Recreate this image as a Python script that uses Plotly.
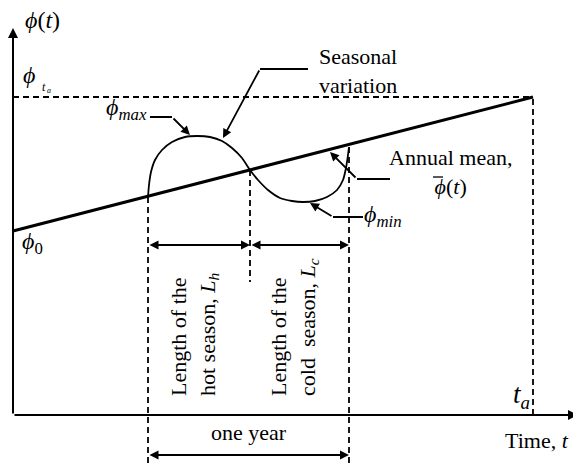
import plotly.graph_objects as go

# ---- schematic data (t: time units, phi: variable units) ----
t_a = 520
phi_0 = 184
phi_ta = 318
mean_t = [0, t_a]
mean_phi = [phi_0, phi_ta]

curve_t = [135, 136, 138, 142, 149, 159, 172, 184, 197, 209, 219, 229, 237, 245,
           255, 267, 279, 290, 302, 314, 324, 330, 333, 335, 336]
curve_phi = [218, 230, 243, 255, 265, 273, 278, 279, 278, 274, 267, 257, 245, 235,
             225, 217, 214, 213, 214, 218, 225, 235, 247, 260, 268]

year_start, season_split, year_end = 135, 237, 336
season_arrow_phi = 170
year_arrow_phi = -40
dash_bottom = -48
split_dash_bottom = 133

# leader lines: [horizontal start, elbow, arrow tip]
lead_seasonal = [(295, 346), (247, 346), (210, 277)]
lead_max = [(137, 298), (159, 298), (177, 280)]
lead_min = [(350, 198), (320, 198), (297, 212)]
lead_mean = [(377, 236), (344, 236), (317, 263)]
# bar over the mean symbol
mean_bar_t = [420, 430]
mean_bar_phi = [238, 238]

FONT = "Liberation Serif, Times New Roman, serif"
BLACK = "#000"

fig = go.Figure()

def line(xs, ys, width=2, dash="solid"):
    fig.add_trace(go.Scatter(x=xs, y=ys, mode="lines",
                             line=dict(color=BLACK, width=width, dash=dash),
                             hoverinfo="skip", showlegend=False))

# mean line
line(mean_t, mean_phi, width=3)
# seasonal curve
fig.add_trace(go.Scatter(x=curve_t, y=curve_phi, mode="lines",
                         line=dict(color=BLACK, width=1.8, shape="spline", smoothing=0.6),
                         hoverinfo="skip", showlegend=False))
# dashed lines
DASH = "6px,4px"
line([0, t_a], [phi_ta, phi_ta], width=1.8, dash=DASH)
line([t_a, t_a], [0, phi_ta], width=1.8, dash=DASH)
line([year_start, year_start], [curve_phi[0], dash_bottom], width=1.8, dash=DASH)
line([season_split, season_split], [curve_phi[12], split_dash_bottom], width=1.8, dash=DASH)
line([year_end, year_end], [curve_phi[-1], dash_bottom], width=1.8, dash=DASH)

# leader horizontal segments
for ld in (lead_seasonal, lead_max, lead_min, lead_mean):
    line([ld[0][0], ld[1][0]], [ld[0][1], ld[1][1]], width=2)
# overbar
line(mean_bar_t, mean_bar_phi, width=1.3)

ann = []

def arrow(x0, y0, x1, y1, width=2, both=False, size=1.0):
    ann.append(dict(x=x1, y=y1, ax=x0, ay=y0, xref="x", yref="y", axref="x", ayref="y",
                    text="", showarrow=True, arrowhead=2, startarrowhead=2,
                    arrowsize=size, startarrowsize=size,
                    arrowwidth=width, arrowcolor=BLACK,
                    arrowside="end+start" if both else "end"))

# axes
arrow(0, 0, 0, 387, width=2)
arrow(0, 0, 565, 0, width=2)
# leader diagonals
for ld in (lead_seasonal, lead_max, lead_min, lead_mean):
    arrow(ld[1][0], ld[1][1], ld[2][0], ld[2][1], width=1.8)
# season arrows
arrow(year_start, season_arrow_phi, season_split, season_arrow_phi, width=1.8, both=True)
arrow(season_split, season_arrow_phi, year_end, season_arrow_phi, width=1.8, both=True)
arrow(year_start, year_arrow_phi, year_end, year_arrow_phi, width=1.8, both=True)

def text(x, y, s, size=22, xanchor="center", yanchor="middle", angle=0, align="center"):
    ann.append(dict(x=x, y=y, xref="x", yref="y", text=s, showarrow=False,
                    xanchor=xanchor, yanchor=yanchor, textangle=angle, align=align,
                    font=dict(family=FONT, size=size, color=BLACK)))

text(29, 395, "<i>ϕ</i>(<i>t</i>)", size=24)
text(8, 340, "<i>ϕ</i>", size=24, xanchor="left")
text(31, 328, "<i>t</i>", size=12)
text(36, 325, "<i>a</i>", size=8)
text(91, 306, "<i>ϕ</i><sub><i>max</i></sub>", size=24, xanchor="left")
text(304, 344, "Seasonal<br>variation", size=22, xanchor="left", align="left")
text(437, 243, "Annual mean,<br><i>ϕ</i>(<i>t</i>)", size=22)
text(349, 199, "<i>ϕ</i><sub><i>min</i></sub>", size=24, xanchor="left")
text(7, 172, "<i>ϕ</i><sub>0</sub>", size=24, xanchor="left")
text(519, 19, "<i>t<sub>a</sub></i>", size=27, xanchor="right")
text(524, -25, "Time, <i>t</i>", size=22)
text(236, -17, "one year", size=22)
text(181, 81, "Length of the<br>hot season, <i>L<sub>h</sub></i>", size=22, angle=-90, align="left")
text(281, 88, "Length of the<br>cold  season, <i>L<sub>c</sub></i>", size=22, angle=-90, align="left")

# page body has an 8px margin: ranges are offset so the drawing lands where intended
fig.update_layout(
    width=581, height=467,
    margin=dict(l=0, r=0, t=0, b=0),
    paper_bgcolor="white", plot_bgcolor="white",
    xaxis=dict(range=[-5, 576], visible=False, fixedrange=True),
    yaxis=dict(range=[-60, 407], visible=False, fixedrange=True),
    annotations=ann,
    showlegend=False,
)

fig.write_html("out.html")
